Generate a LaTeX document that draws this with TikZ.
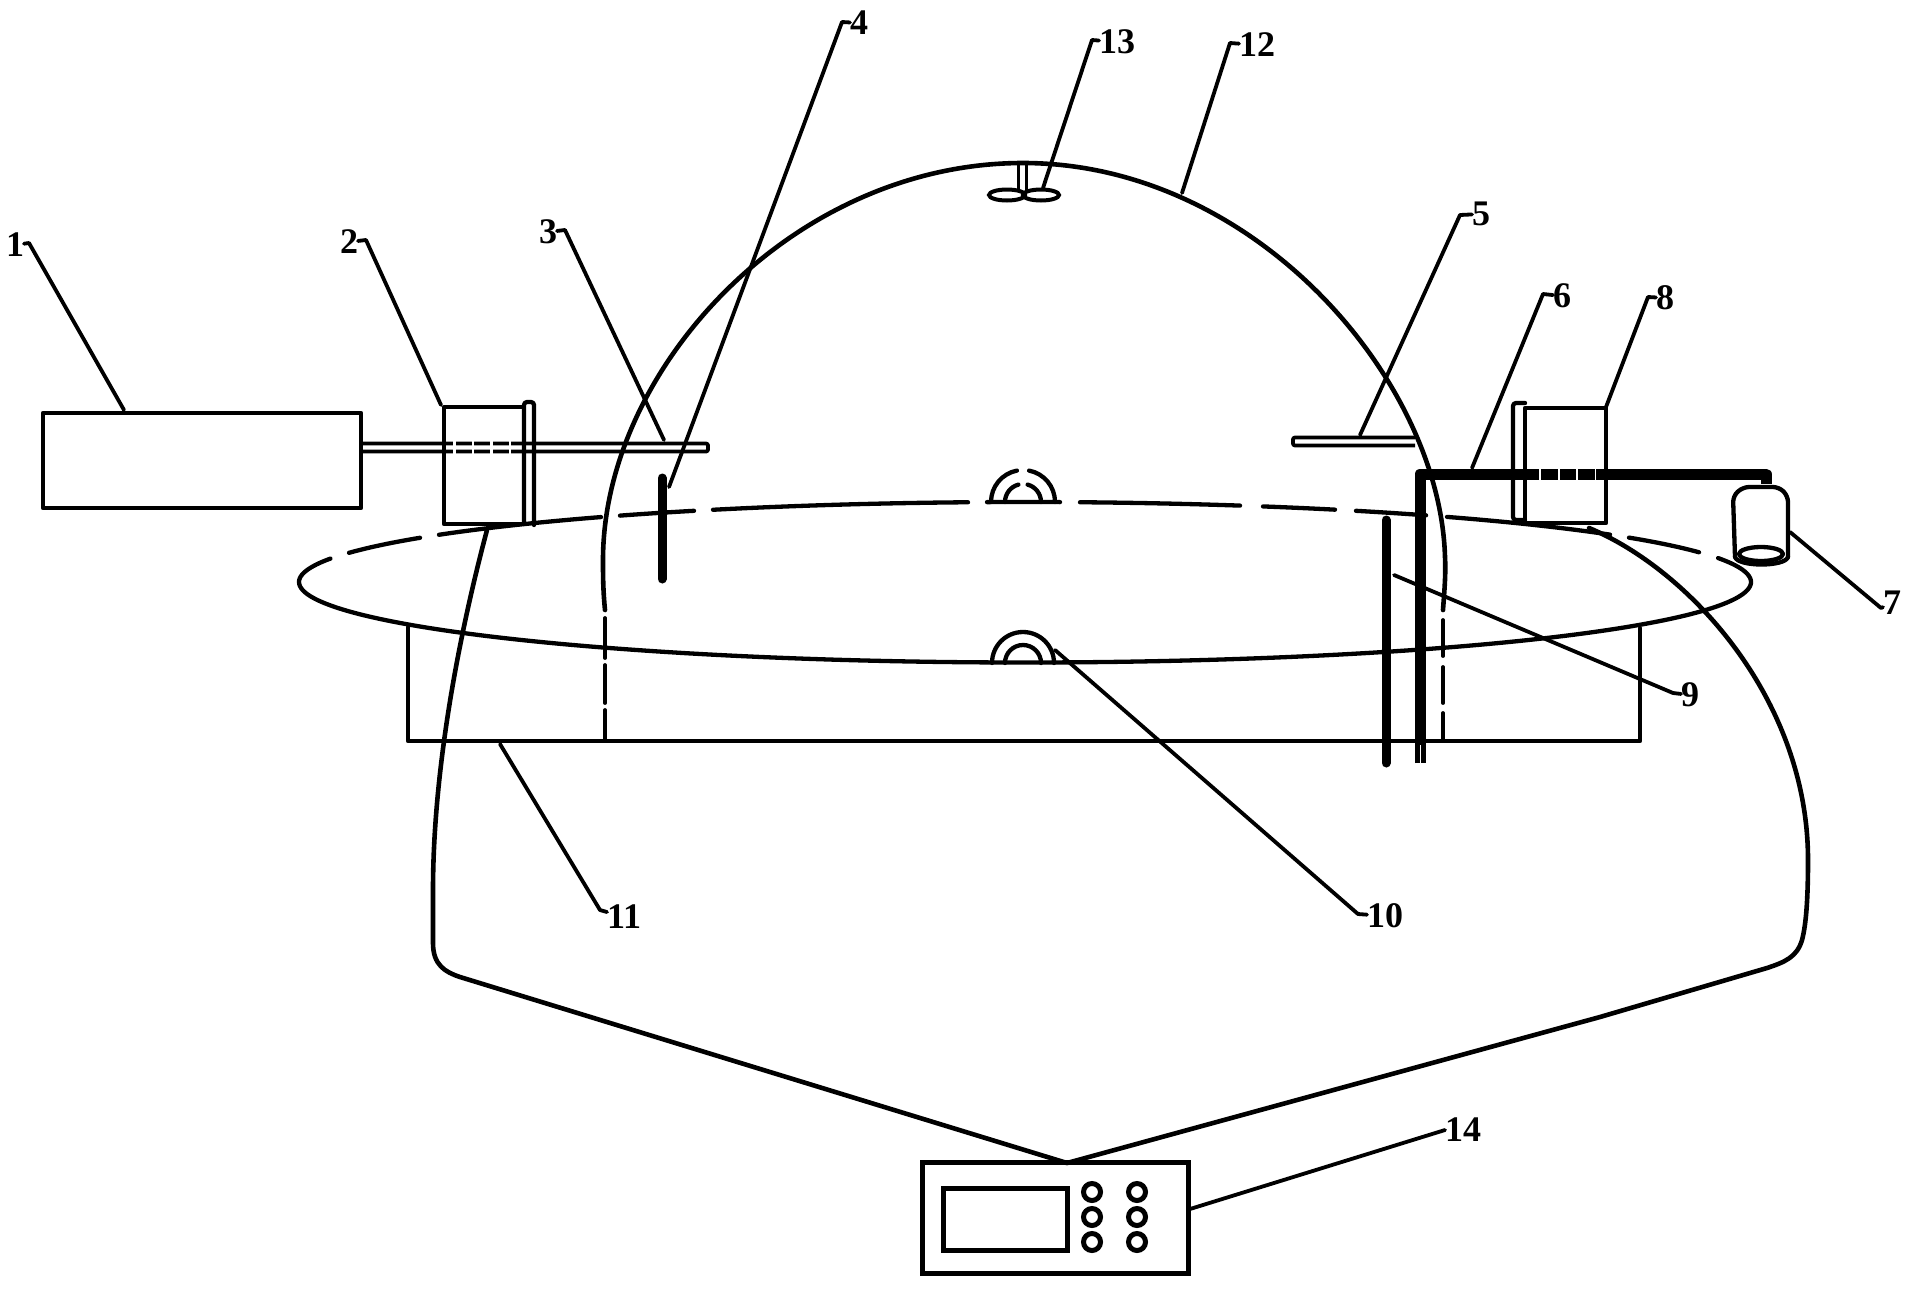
\documentclass[tikz,border=0pt]{standalone}
\usepackage{fontspec}
\setmainfont{Liberation Serif}
\newcommand{\topseg}[2]{\draw[ln] plot[domain=#1:#2,samples=30,variable=\t] ({\t},{582-80*sqrt(max(0,1-((\t-1025)/726)^2))});}
\tikzset{
  ln/.style={line width=4.3pt,line cap=round,line join=round},
  thin line/.style={line width=3.8pt,line cap=round,line join=round},
  leader/.style={line width=3.8pt,line cap=round,line join=round},
  lab/.style={font=\fontsize{36}{36}\selectfont\bfseries,inner sep=0pt,outer sep=0pt},
  knob/.style={line width=5pt},
  rod/.style={line width=3.8pt,rounded corners=2pt,line join=round},
  gapw/.style={white,line width=4.5pt},
  thickbar/.style={line width=9pt,line cap=round}
}
\begin{document}
\begin{tikzpicture}[x=1pt,y=-1pt]
\useasboundingbox[fill=white] (0,0) rectangle (1914,1288);

% tub
\draw[ln] (408,627) -- (408,741) -- (1640,741) -- (1640,628);

% dome
\draw[line width=4.6pt,line cap=round,line join=round] (605,610) .. controls (603,590) and (603,575) .. (603,560) .. controls (603,370) and (792,163) .. (1023,163) .. controls (1255,163) and (1440,380) .. (1445,557) .. controls (1446,575) and (1444,595) .. (1443,610);
\draw[thin line] (605,618) -- (605,658);
\draw[thin line] (605,665) -- (605,703);
\draw[thin line] (605,710) -- (605,741);
\draw[thin line] (1443,620) -- (1443,656);
\draw[thin line] (1443,667) -- (1443,703);
\draw[thin line] (1443,713) -- (1443,741);

% disc
\draw[ln] plot[domain=196.9:-17.3,samples=200,variable=\t] ({1025+726*cos(\t)},{582+80.5*sin(\t)});
\topseg{349}{420}
\topseg{439}{601}
\topseg{620}{694}
\topseg{713}{968}
\topseg{987}{1060}
\topseg{1080}{1240}
\topseg{1263}{1335}
\topseg{1356}{1426}
\topseg{1447}{1610}
\topseg{1629}{1699}

% semicircles on the disc
\draw[ln] (991,502) arc[start angle=180,end angle=101,radius=32pt];
\draw[ln] (1055,502) arc[start angle=0,end angle=79,radius=32pt];
\draw[ln] (1005,502) arc[start angle=180,end angle=105,radius=18pt];
\draw[ln] (1041,502) arc[start angle=0,end angle=75,radius=18pt];
\draw[ln] (992,663) arc[start angle=180,end angle=0,radius=31pt];
\draw[ln] (1005,663) arc[start angle=180,end angle=0,radius=18pt];

% fan
\draw[line width=3pt] (1018,164) -- (1018,190);
\draw[line width=3pt] (1026,164) -- (1026,190);
\draw[line width=4pt] (1007,195) ellipse[x radius=18pt,y radius=5.5pt];
\draw[line width=4pt] (1041,195) ellipse[x radius=18pt,y radius=5.5pt];

% unit 1 and its rod
\draw[line width=4.5pt,line join=round] (43,413) rectangle (361,508);
\draw[rod] (361,443.5) -- (708,443.5) -- (708,451.5) -- (361,451.5);

% box 2
\draw[ln] (444,407) rectangle (524,524);
\draw[ln,rounded corners=3pt] (524,524) -- (524,402) -- (534,402) -- (534,525);
\draw[gapw,dash pattern=on 2.5pt off 16pt] (453,443.5) -- (518,443.5);
\draw[gapw,dash pattern=on 2.5pt off 16pt] (453,451.5) -- (518,451.5);

% rod 5
\draw[rod] (1415,437.5) -- (1293,437.5) -- (1293,445.5) -- (1415,445.5);

% box 8
\draw[ln] (1525,408) rectangle (1606,523);
\draw[ln,rounded corners=3pt] (1525,520) -- (1513,520) -- (1513,403) -- (1525,403);

% tube 6
\draw[line width=11pt,line join=round] (1420,763) -- (1420,474) -- (1766,474) -- (1766,484);
\draw[gapw,line width=12pt,dash pattern=on 2pt off 16.5pt] (1539,474) -- (1596,474);
\draw[white,line width=1pt] (1420,745) -- (1420,765);

% bar 9 and bar 4
\draw[thickbar] (1386,520) -- (1386,763);
\draw[thickbar] (662,478) -- (662,579);

% bottle 7
\draw[ln,rounded corners=6pt] (1735,557) -- (1733,496) -- (1743,487) -- (1779,487) -- (1788,496) -- (1788,557);
\draw[ln] (1735,557) .. controls (1738,567) and (1785,567) .. (1788,557);
\draw[ln] (1761,554) ellipse[x radius=22pt,y radius=7pt];

% controller
\node[draw,line width=5pt,minimum width=266pt,minimum height=111pt,inner sep=0pt] (ctrl) at (1055,1217.5) {};
\node[draw,line width=5pt,minimum width=124pt,minimum height=62pt,inner sep=0pt] (screen) at (1005,1219) {};
\foreach \kx/\kn in {1092/a,1137/b}{
  \foreach \ky/\km in {1192/a,1217/b,1242/c}{
    \node[draw,knob,circle,minimum size=17pt,inner sep=0pt] (k\kn\km) at (\kx,\ky) {};
  }
}

% cables
\coordinate (join) at (1067,1163);
\draw[line width=4.6pt,line cap=round,line join=round] (join) -- (460,977) .. controls (445,972) and (433,965) .. (433,943) -- (433,890) .. controls (433,780) and (455,650) .. (487,530);
\draw[line width=4.6pt,line cap=round,line join=round] (join) -- (1600,1017) -- (1767,968) .. controls (1785,962) and (1797,957) .. (1802,940) .. controls (1806,925) and (1808,900) .. (1808,860) .. controls (1808,700) and (1690,570) .. (1589,528);

% labels
\node[lab] (l1) at (15,245) {1};
\node[lab] (l2) at (349,242) {2};
\node[lab] (l3) at (548,232) {3};
\node[lab] (l4) at (859,23) {4};
\node[lab] (l5) at (1481,214) {5};
\node[lab] (l6) at (1562,296) {6};
\node[lab] (l7) at (1892,603) {7};
\node[lab] (l8) at (1665,298) {8};
\node[lab] (l9) at (1690,695) {9};
\node[lab] (l10) at (1385,916) {10};
\node[lab] (l11) at (624,917) {11};
\node[lab] (l12) at (1257,45) {12};
\node[lab] (l13) at (1117,42) {13};
\node[lab] (l14) at (1463,1130) {14};

% leaders
\coordinate (h1) at (29,243); \coordinate (t1) at (124,410);
\coordinate (h2) at (366,240); \coordinate (t2) at (441,405);
\coordinate (h3) at (565,230); \coordinate (t3) at (664,440);
\coordinate (h4) at (842,22); \coordinate (t4) at (669,487);
\coordinate (h5) at (1460,215); \coordinate (t5) at (1360,435);
\coordinate (h6) at (1543,294); \coordinate (t6) at (1472,468);
\coordinate (h7) at (1881,608); \coordinate (t7) at (1790,532);
\coordinate (h8) at (1648,297); \coordinate (t8) at (1606,407);
\coordinate (h9) at (1673,693); \coordinate (t9) at (1394,575);
\coordinate (h10) at (1358,914); \coordinate (t10) at (1055,650);
\coordinate (h11) at (600,910); \coordinate (t11) at (500,744);
\coordinate (h12) at (1230,43); \coordinate (t12) at (1182,193);
\coordinate (h13) at (1092,40); \coordinate (t13) at (1043,188);
\coordinate (h14) at (1445,1130); \coordinate (t14) at (1190,1209);
\foreach \n in {1,...,14}{
  \draw[leader] (l\n) -- (h\n) -- (t\n);
}
\end{tikzpicture}
\end{document}
